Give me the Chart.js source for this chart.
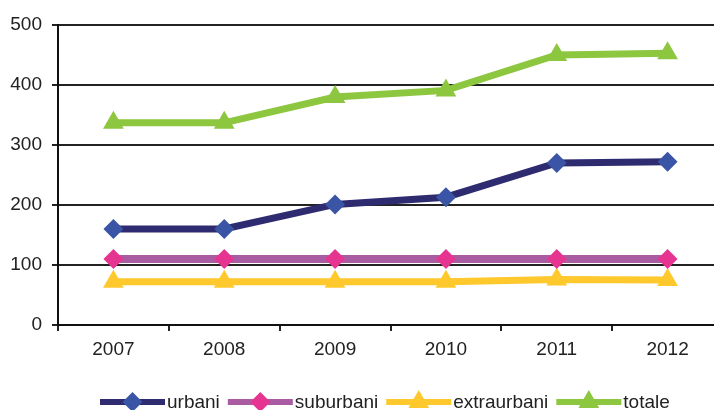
<!DOCTYPE html>
<html>
<head>
<meta charset="utf-8">
<script src="https://cdn.jsdelivr.net/npm/chart.js@4.4.1/dist/chart.umd.min.js"></script>
<style>
  html, body { margin: 0; padding: 0; background: #fff; overflow: hidden; }
  #wrap { width: 714px; height: 410px; overflow: hidden; position: relative; }
  #chart { display: block; position: absolute; left: 0; top: 0; }
</style>
</head>
<body>
<!-- canvas wider than the window: the original plot runs past the right edge -->
<div id="wrap"><canvas id="chart" width="735" height="410"></canvas></div>
<script>
const years = ["2007", "2008", "2009", "2010", "2011", "2012"];
const urbani = [160, 160, 201, 213, 270, 272];
const suburbani = [110, 110, 110, 110, 110, 110];
const extraurbani = [72, 72, 72, 72, 76, 75];
const totale = [337, 337, 380, 391, 450, 453];
const yTicks = [0, 100, 200, 300, 400, 500];

const FONT = "'Liberation Sans', Arial, sans-serif";

function series(label, data, line, marker, style, radius, width) {
  return {
    label: label,
    data: data,
    borderColor: line,
    backgroundColor: marker,
    borderWidth: width,
    pointStyle: style,
    pointRadius: radius,
    pointHoverRadius: radius,
    pointBackgroundColor: marker,
    pointBorderColor: marker,
    pointBorderWidth: 0,
    tension: 0,
    fill: false
  };
}

// legend drawn as line + marker, like the original
const lineLegend = {
  id: "lineLegend",
  afterDraw(chart) {
    const ctx = chart.ctx;
    const y = 402;
    let x = 100;
    ctx.save();
    ctx.font = "19px " + FONT;
    ctx.textBaseline = "middle";
    ctx.textAlign = "left";
    chart.data.datasets.forEach((ds) => {
      ctx.strokeStyle = ds.borderColor;
      ctx.lineWidth = 6;
      ctx.beginPath();
      ctx.moveTo(x, y);
      ctx.lineTo(x + 65, y);
      ctx.stroke();
      const cx = x + 32.5;
      const r = ds.pointRadius;
      ctx.fillStyle = ds.pointBackgroundColor;
      ctx.beginPath();
      if (ds.pointStyle === "triangle") {
        ctx.moveTo(cx, y - r);
        ctx.lineTo(cx + r * 0.866, y + r * 0.5);
        ctx.lineTo(cx - r * 0.866, y + r * 0.5);
      } else {
        ctx.moveTo(cx, y - r);
        ctx.lineTo(cx + r, y);
        ctx.lineTo(cx, y + r);
        ctx.lineTo(cx - r, y);
      }
      ctx.closePath();
      ctx.fill();
      ctx.fillStyle = "#222";
      ctx.fillText(ds.label, x + 67, y + 1);
      x += 67 + ctx.measureText(ds.label).width + 8;
    });
    ctx.restore();
  }
};

new Chart(document.getElementById("chart"), {
  type: "line",
  data: {
    labels: years,
    datasets: [
      series("urbani", urbani, "#2E2B70", "#3A55A5", "rectRot", 10, 7),
      series("suburbani", suburbani, "#A95CA2", "#E63590", "rectRot", 10, 8),
      series("extraurbani", extraurbani, "#FFC82C", "#FFC82C", "triangle", 12, 7),
      series("totale", totale, "#8DC63F", "#8DC63F", "triangle", 12, 7)
    ]
  },
  options: {
    responsive: false,
    animation: false,
    layout: { padding: { left: 0, right: 1, top: 25, bottom: 0 } },
    plugins: {
      legend: { display: false },
      tooltip: { enabled: false }
    },
    scales: {
      x: {
        offset: true,
        afterFit: (s) => { s.height = 85; },
        grid: {
          offset: true,
          drawOnChartArea: false,
          drawTicks: true,
          tickLength: 6,
          color: "#222",
          lineWidth: 2
        },
        border: { color: "#111", width: 2 },
        ticks: {
          padding: 7,
          color: "#222",
          font: { family: FONT, size: 19 },
          maxRotation: 0
        }
      },
      y: {
        min: 0,
        max: 500,
        afterFit: (s) => { s.width = 58; },
        afterBuildTicks: (s) => { s.ticks = yTicks.map((v) => ({ value: v })); },
        grid: {
          color: "#222",
          lineWidth: 2,
          drawTicks: true,
          tickLength: 6
        },
        border: { color: "#111", width: 2 },
        ticks: {
          padding: 10,
          color: "#222",
          font: { family: FONT, size: 19 }
        }
      }
    }
  },
  plugins: [lineLegend]
});
</script>
</body>
</html>
